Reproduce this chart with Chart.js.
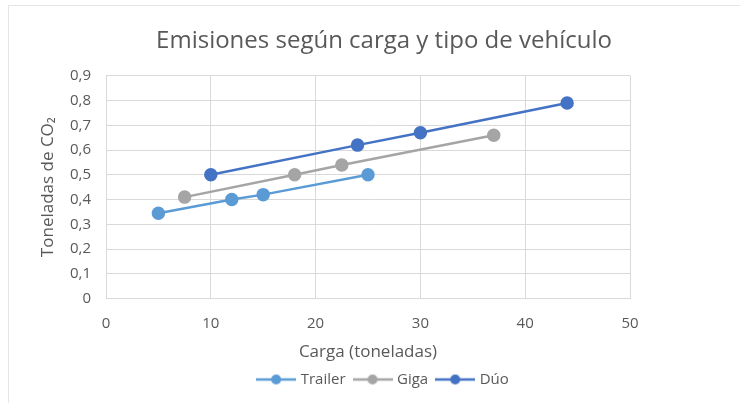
<!DOCTYPE html>
<html>
<head>
<meta charset="utf-8">
<script src="https://cdn.jsdelivr.net/npm/chart.js@4"></script>
<style>
  body { margin: 0; background: #fff; }
  #frame { position: absolute; left: 8px; top: 5px; width: 740px; height: 403px;
           border-left: 1px solid #e6e6e6; border-top: 1px solid #e6e6e6; }
  #wrap { position: absolute; left: 0; top: 0; width: 740px; height: 403px; }
</style>
</head>
<body>
<div id="frame"></div>
<div id="wrap"><canvas id="chart"></canvas></div>
<script>
// data
var trailer_x = [5, 12, 15, 25];
var trailer_y = [0.345, 0.40, 0.42, 0.50];
var giga_x = [7.5, 18, 22.5, 37];
var giga_y = [0.41, 0.50, 0.54, 0.66];
var duo_x = [10, 24, 30, 44];
var duo_y = [0.50, 0.62, 0.67, 0.79];

var series_names = ['Trailer', 'Giga', 'Dúo'];
var series_colors = ['#5B9BD5', '#A5A5A5', '#4472C4'];

var text_color = '#595959';
var font_family = "'Open Sans', 'Noto Sans', sans-serif";

function to_points(xs, ys)
{
    var pts = [];
    for (var i = 0; i < xs.length; i++) {
        pts.push({x: xs[i], y: ys[i]});
    }
    return pts;
}

// small line+dot marker for the legend
function legend_marker(color)
{
    var c = document.createElement('canvas');
    c.width = 40;
    c.height = 12;
    var ctx = c.getContext('2d');
    ctx.strokeStyle = color;
    ctx.lineWidth = 2.5;
    ctx.beginPath();
    ctx.moveTo(0, 6);
    ctx.lineTo(40, 6);
    ctx.stroke();
    ctx.fillStyle = color;
    ctx.beginPath();
    ctx.arc(20, 6, 5, 0, Math.PI * 2);
    ctx.fill();
    return c;
}

var all_x = [trailer_x, giga_x, duo_x];
var all_y = [trailer_y, giga_y, duo_y];
var datasets = [];
for (var i = 0; i < series_names.length; i++) {
    datasets.push({
        label: series_names[i],
        data: to_points(all_x[i], all_y[i]),
        showLine: true,
        borderColor: series_colors[i],
        backgroundColor: series_colors[i],
        borderWidth: 2.5,
        pointRadius: 5.5,
        pointHoverRadius: 5.5
    });
}

var ctx = document.getElementById('chart');
new Chart(ctx, {
    type: 'scatter',
    data: { datasets: datasets },
    options: {
        responsive: true,
        maintainAspectRatio: false,
        animation: false,
        layout: { padding: { left: 28, right: 0, top: 0, bottom: 6 } },
        plugins: {
            title: {
                display: true,
                text: 'Emisiones según carga y tipo de vehículo',
                color: text_color,
                font: { family: font_family, size: 24, weight: 'normal' },
                padding: { top: 27, bottom: 20 }
            },
            legend: {
                position: 'bottom',
                labels: {
                    usePointStyle: true,
                    pointStyleWidth: 34,
                    color: text_color,
                    font: { family: font_family, size: 15 },
                    padding: 10,
                    generateLabels: function(chart) {
                        return chart.data.datasets.map(function(ds, idx) {
                            return {
                                text: ds.label,
                                pointStyle: legend_marker(ds.borderColor),
                                fillStyle: ds.borderColor,
                                strokeStyle: ds.borderColor,
                                fontColor: text_color,
                                lineWidth: 0,
                                hidden: false,
                                datasetIndex: idx
                            };
                        });
                    }
                }
            },
            tooltip: { enabled: false }
        },
        scales: {
            x: {
                type: 'linear',
                min: 0,
                max: 50,
                ticks: {
                    stepSize: 10,
                    color: text_color,
                    font: { family: font_family, size: 15 },
                    padding: 16
                },
                grid: { color: '#d9d9d9', drawTicks: false },
                border: { color: '#d9d9d9' },
                title: {
                    display: true,
                    text: 'Carga (toneladas)',
                    color: text_color,
                    font: { family: font_family, size: 17 },
                    padding: { top: -7, bottom: 0 }
                }
            },
            y: {
                min: 0,
                max: 0.9,
                afterFit: function(scale) { scale.width = 78; },
                ticks: {
                    stepSize: 0.1,
                    color: text_color,
                    font: { family: font_family, size: 15 },
                    padding: 15,
                    callback: function(v) {
                        if (Math.abs(v) < 1e-9) return '0';
                        return v.toFixed(1).replace('.', ',');
                    }
                },
                grid: { color: '#d9d9d9', drawTicks: false },
                border: { color: '#d9d9d9' },
                title: {
                    display: true,
                    text: 'Toneladas de CO₂',
                    color: text_color,
                    font: { family: font_family, size: 17 },
                    padding: { top: 10, bottom: 0 }
                }
            },
            // empty axis that only keeps the white space on the right
            yRight: {
                position: 'right',
                min: 0,
                max: 0.9,
                afterFit: function(scale) { scale.width = 110; },
                ticks: { display: false },
                grid: { display: false },
                border: { display: false }
            }
        }
    }
});
</script>
</body>
</html>
